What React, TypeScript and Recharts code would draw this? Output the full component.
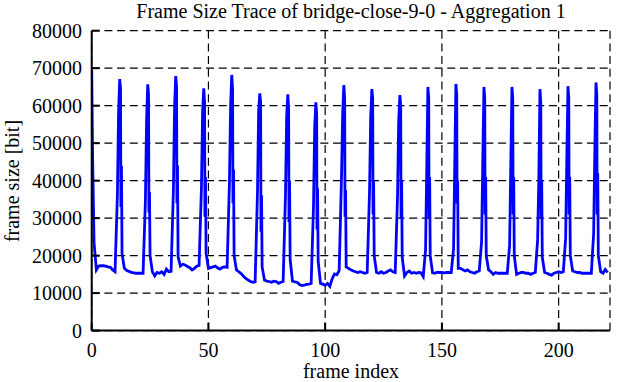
import React from 'react';
import { LineChart, Line, XAxis, YAxis, CartesianGrid } from 'recharts';

const chartTitle = 'Frame Size Trace of bridge-close-9-0 - Aggregation 1';
const xAxisLabel = 'frame index';
const yAxisLabel = 'frame size [bit]';

const xTicks = [0, 50, 100, 150, 200];
const yTicks = [0, 10000, 20000, 30000, 40000, 50000, 60000, 70000, 80000];

const frameIndex = [
  0, 0.4, 0.7, 1, 2, 3, 4, 5, 6, 7, 8, 9, 10,
  11, 11.5, 12, 12.35, 12.5, 12.75, 13, 14, 15, 16, 17, 18, 19, 20, 21, 22,
  23, 23.5, 24, 24.35, 24.5, 24.75, 25, 26, 27, 28, 29, 30, 31, 32, 33, 34,
  35, 35.5, 36, 36.35, 36.5, 36.75, 37, 38, 39, 40, 41, 42, 43, 44, 45, 46,
  47, 47.5, 48, 48.35, 48.5, 48.75, 49, 50, 51, 52, 53, 54, 55, 56, 57, 58,
  59, 59.5, 60, 60.35, 60.5, 60.75, 61, 62, 63, 64, 65, 66, 67, 68, 69, 70,
  71, 71.5, 72, 72.35, 72.5, 72.75, 73, 74, 75, 76, 77, 78, 79, 80, 81, 82,
  83, 83.5, 84, 84.35, 84.5, 84.75, 85, 86, 87, 88, 89, 90, 91, 92, 93, 94,
  95, 95.5, 96, 96.35, 96.5, 96.75, 97, 98, 99, 100, 101, 102, 103, 104, 105, 106,
  107, 107.5, 108, 108.35, 108.5, 108.75, 109, 110, 111, 112, 113, 114, 115, 116, 117, 118,
  119, 119.5, 120, 120.35, 120.5, 120.75, 121, 122, 123, 124, 125, 126, 127, 128, 129, 130,
  131, 131.5, 132, 132.35, 132.5, 132.75, 133, 134, 135, 136, 137, 138, 139, 140, 141, 142,
  143, 143.5, 144, 144.35, 144.5, 144.75, 145, 146, 147, 148, 149, 150, 151, 152, 153, 154,
  155, 155.5, 156, 156.35, 156.5, 156.75, 157, 158, 159, 160, 161, 162, 163, 164, 165, 166,
  167, 167.5, 168, 168.35, 168.5, 168.75, 169, 170, 171, 172, 173, 174, 175, 176, 177, 178,
  179, 179.5, 180, 180.35, 180.5, 180.75, 181, 182, 183, 184, 185, 186, 187, 188, 189, 190,
  191, 191.5, 192, 192.35, 192.5, 192.75, 193, 194, 195, 196, 197, 198, 199, 200, 201, 202,
  203, 203.5, 204, 204.35, 204.5, 204.75, 205, 206, 207, 208, 209, 210, 211, 212, 213, 214,
  215, 215.5, 216, 216.35, 216.5, 216.75, 217, 218, 219, 220, 221,
];

const frameSize = [
  69500, 46000, 35000, 23500, 16200, 17200, 17300, 17300, 17200, 17000, 16900, 16200, 15700,
  36000, 58000, 67100, 64500, 33000, 44000, 20500, 16600, 16000, 15800, 15500, 15400, 15300, 15300, 15300, 15300,
  34500, 56000, 65700, 63000, 31500, 37000, 20000, 15700, 14600, 15500, 15300, 15700, 15000, 16400, 15700, 15800,
  37500, 59700, 67900, 65000, 34000, 44100, 19700, 17200, 17700, 17500, 17100, 16800, 16200, 16600, 17200, 17400,
  37900, 58400, 64600, 61000, 30400, 41000, 20600, 16600, 16800, 17000, 17200, 16700, 16400, 16900, 17000, 16900,
  39500, 60000, 68200, 64000, 34000, 43000, 20000, 16200, 15700, 15200, 14500, 13900, 13500, 13100, 12900, 13000,
  36600, 58400, 63300, 61000, 26400, 36100, 17000, 13500, 13200, 13100, 12900, 13200, 13100, 12600, 12900, 13100,
  36000, 57000, 63000, 59000, 29000, 40000, 19000, 13200, 13000, 12900, 12300, 12000, 12100, 12300, 12400, 12600,
  33000, 54000, 60900, 58000, 27000, 38000, 18500, 12600, 12400, 12100, 12600, 11800, 13800, 15100, 14900, 16000,
  41000, 57900, 65500, 62000, 30400, 37500, 17000, 16600, 16200, 15900, 15700, 15500, 15700, 15500, 15300, 15500,
  37000, 57000, 64400, 62000, 31000, 40000, 20000, 15500, 15300, 15700, 15300, 15500, 15900, 16200, 15700, 15500,
  36000, 56000, 62800, 60000, 30000, 40000, 19500, 14600, 15500, 15900, 15300, 15500, 15300, 15500, 15400, 14400,
  21500, 42800, 65000, 62000, 30000, 41000, 20000, 15400, 15300, 15600, 15500, 15500, 15400, 15500, 15500, 15500,
  21900, 44100, 65800, 63000, 33900, 40100, 16600, 16600, 16200, 15900, 16200, 15700, 15500, 15300, 15700, 15900,
  23700, 45000, 65000, 62000, 31000, 41000, 20000, 16200, 15700, 15000, 15500, 15300, 15300, 15300, 15300, 15300,
  22800, 44100, 65000, 62000, 31000, 41000, 20000, 15000, 15300, 15500, 15500, 15300, 15300, 15000, 15300, 15500,
  24200, 40000, 64400, 61000, 30000, 40000, 19500, 15500, 15300, 15000, 14800, 15300, 15500, 15700, 15500, 15700,
  24600, 45900, 65200, 62000, 31000, 41000, 20000, 15900, 15700, 15500, 15500, 15300, 15300, 15300, 15300, 15300,
  25900, 48200, 66200, 63000, 31000, 42000, 20000, 15700, 15300, 16300, 15500,
];

const data = frameIndex.map((x, i) => ({ x, size: frameSize[i] }));

const FONT = '"Liberation Serif", "Times New Roman", Times, serif';
const textStyle: React.CSSProperties = { fontFamily: FONT, fontSize: 20, fill: '#000' };
const axisStroke = { stroke: '#000', strokeWidth: 2 };

const renderXTick = (props: any) => {
  const { x, y, payload } = props;
  return (
    <text x={x} y={y} dy="0.71em" textAnchor="middle" style={textStyle}>
      {String(payload.value)}
    </text>
  );
};

const renderYTick = (props: any) => {
  const { x, y, payload } = props;
  return (
    <text x={x} y={y} dy="0.355em" textAnchor="end" style={textStyle}>
      {String(payload.value)}
    </text>
  );
};

export default function App() {
  return (
    <div
      style={{
        position: 'absolute',
        left: 0,
        top: 0,
        width: 617,
        height: 382,
        background: '#fff',
        fontFamily: FONT,
      }}
    >
      <LineChart
        width={617}
        height={382}
        data={data}
        margin={{ top: 30.7, right: 7, bottom: 0, left: 0 }}
        style={{ fontFamily: FONT }}
      >
        <CartesianGrid stroke="#000" strokeWidth={1.2} strokeDasharray="8 4.7" />
        <XAxis
          dataKey="x"
          type="number"
          domain={[0, 222]}
          ticks={xTicks}
          interval={0}
          allowDataOverflow
          height={51.4}
          tickSize={-8}
          tickMargin={20}
          axisLine={axisStroke}
          tickLine={axisStroke}
          tick={renderXTick}
        />
        <XAxis
          xAxisId="top"
          orientation="top"
          dataKey="x"
          type="number"
          domain={[0, 222]}
          ticks={xTicks}
          interval={0}
          allowDataOverflow
          height={0}
          tickSize={-8}
          axisLine={axisStroke}
          tickLine={axisStroke}
          tick={false}
        />
        <YAxis
          type="number"
          domain={[0, 80000]}
          ticks={yTicks}
          interval={0}
          allowDataOverflow
          width={91.7}
          tickSize={-8}
          tickMargin={17.7}
          axisLine={axisStroke}
          tickLine={axisStroke}
          tick={renderYTick}
        />
        <YAxis
          yAxisId="right"
          orientation="right"
          type="number"
          domain={[0, 80000]}
          ticks={yTicks}
          interval={0}
          allowDataOverflow
          width={0}
          tickSize={-8}
          axisLine={axisStroke}
          tickLine={axisStroke}
          tick={false}
        />
        <Line
          type="linear"
          dataKey="size"
          stroke="#0000ff"
          strokeWidth={2.8}
          dot={false}
          activeDot={false}
          isAnimationActive={false}
        />
      </LineChart>
      <svg
        width={617}
        height={382}
        style={{ position: 'absolute', left: 0, top: 0, pointerEvents: 'none' }}
      >
        <text x={351} y={18} textAnchor="middle" style={textStyle}>
          {chartTitle}
        </text>
        <text x={351} y={378} textAnchor="middle" style={textStyle}>
          {xAxisLabel}
        </text>
        <text transform="translate(19,181) rotate(-90)" textAnchor="middle" style={textStyle}>
          {yAxisLabel}
        </text>
      </svg>
    </div>
  );
}
